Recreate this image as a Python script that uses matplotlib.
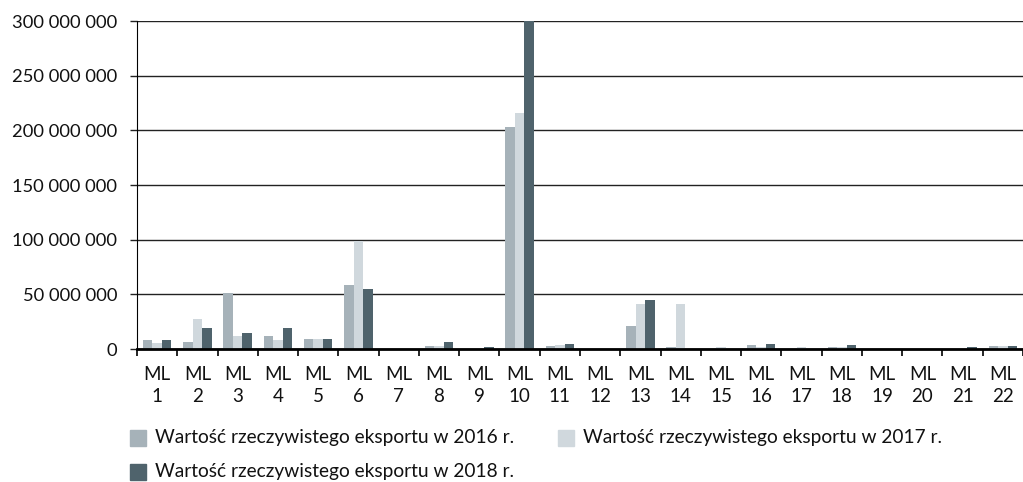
import numpy as np
import matplotlib
matplotlib.use("Agg")
import matplotlib.pyplot as plt
from matplotlib.ticker import FuncFormatter, FixedLocator
from matplotlib.patches import Rectangle
from matplotlib.transforms import blended_transform_factory, offset_copy

plt.rcParams['font.family'] = ['Lato', 'DejaVu Sans']

# -----------------------------
# Data
# -----------------------------
ml_names = ["ML"] * 22
ml_numbers = [str(i) for i in range(1, 23)]
export_2016 = [8.2e6, 6.7e6, 51e6, 12e6, 9e6, 58.5e6, 0.2e6, 2.7e6, 0.3e6, 203e6, 2.5e6,
               0.1e6, 21e6, 1.5e6, 0.2e6, 3.7e6, 0.3e6, 2e6, 0.3e6, 0.1e6, 0.2e6, 2.7e6]
export_2017 = [5.5e6, 27.4e6, 12e6, 8e6, 9e6, 99e6, 0.2e6, 2.5e6, 0.3e6, 216e6, 3.7e6,
               0.1e6, 41e6, 41e6, 1.5e6, 1.5e6, 1.8e6, 2e6, 0.3e6, 0.1e6, 0.2e6, 2.7e6]
export_2018 = [8e6, 19e6, 14.6e6, 19e6, 9e6, 55e6, 0.2e6, 6.5e6, 1.8e6, 300e6, 4.6e6,
               0.1e6, 45e6, 0.2e6, 0.2e6, 4.6e6, 0.2e6, 4e6, 0.2e6, 0.1e6, 1.8e6, 3e6]
labels = ["Wartość rzeczywistego eksportu w 2016 r.",
          "Wartość rzeczywistego eksportu w 2017 r.",
          "Wartość rzeczywistego eksportu w 2018 r."]
colors = ["#a6b2b9", "#d0d8dd", "#4f636c"]

W, H = 1023, 482
fig = plt.figure(figsize=(W / 100, H / 100), dpi=100)
renderer = fig.canvas.get_renderer()


def fit_size(text, width_px, base=12.0):
    # font size that makes `text` about width_px pixels wide
    t = fig.text(0, 0, text, fontsize=base)
    w = t.get_window_extent(renderer).width
    t.remove()
    return base * width_px / w


ytick_size = fit_size("300 000 000", 105)
legend_size = fit_size(labels[0], 358)
xlab_size = 13.5

# -----------------------------
# Bars
# -----------------------------
ax = fig.add_axes([137 / W, 1 - 349 / H, 886 / W, 328 / H])
x = np.arange(len(ml_numbers))
bw = 0.235
for k, vals in enumerate([export_2016, export_2017, export_2018]):
    ax.bar(x + (k - 1) * bw, vals, width=bw, color=colors[k], zorder=3)

ax.set_xlim(-0.5, len(ml_numbers) - 0.5)
ax.set_ylim(0, 300e6)
ax.set_yticks(np.arange(0, 300e6 + 1, 50e6))
ax.yaxis.set_major_formatter(FuncFormatter(lambda v, p: "{:,.0f}".format(v).replace(",", " ")))
ax.grid(axis="y", color="#222222", linewidth=1.0, zorder=0)
ax.tick_params(axis="y", length=5, width=1.0, color="#222222", labelsize=ytick_size,
               pad=9.3, labelcolor="#111111")

# x axis: tick marks between groups, two-row labels
ax.set_xticks(x)
ax.set_xticklabels([])
ax.tick_params(axis="x", which="major", length=0)
ax.xaxis.set_minor_locator(FixedLocator(np.arange(-0.5, len(ml_numbers), 1.0)))
ax.tick_params(axis="x", which="minor", length=5, width=1.2, color="black")

tr = blended_transform_factory(ax.transData, ax.transAxes)
for i in range(len(ml_numbers)):
    ax.text(i, 0, ml_names[i], ha="center", va="center", fontsize=xlab_size, color="#111111",
            transform=offset_copy(tr, fig=fig, x=0, y=-26, units="dots"), clip_on=False)
    ax.text(i, 0, ml_numbers[i], ha="center", va="center", fontsize=xlab_size, color="#111111",
            transform=offset_copy(tr, fig=fig, x=0, y=-48, units="dots"), clip_on=False)

for s in ["top", "right"]:
    ax.spines[s].set_visible(False)
ax.spines["left"].set_color("black")
ax.spines["bottom"].set_linewidth(2.0)
ax.spines["bottom"].set_zorder(4)

# -----------------------------
# Legend (two columns, three entries)
# -----------------------------
legend_pos = [(130, 438), (558, 438), (130, 472)]
for (lx, ly), lab, col in zip(legend_pos, labels, colors):
    fig.patches.append(Rectangle((lx / W, 1 - (ly + 8) / H), 16 / W, 16 / H,
                                 transform=fig.transFigure, color=col))
    fig.text((lx + 25) / W, 1 - ly / H, lab, fontsize=legend_size, va="center",
             ha="left", color="#111111")

fig.savefig("out.png", dpi=100)
